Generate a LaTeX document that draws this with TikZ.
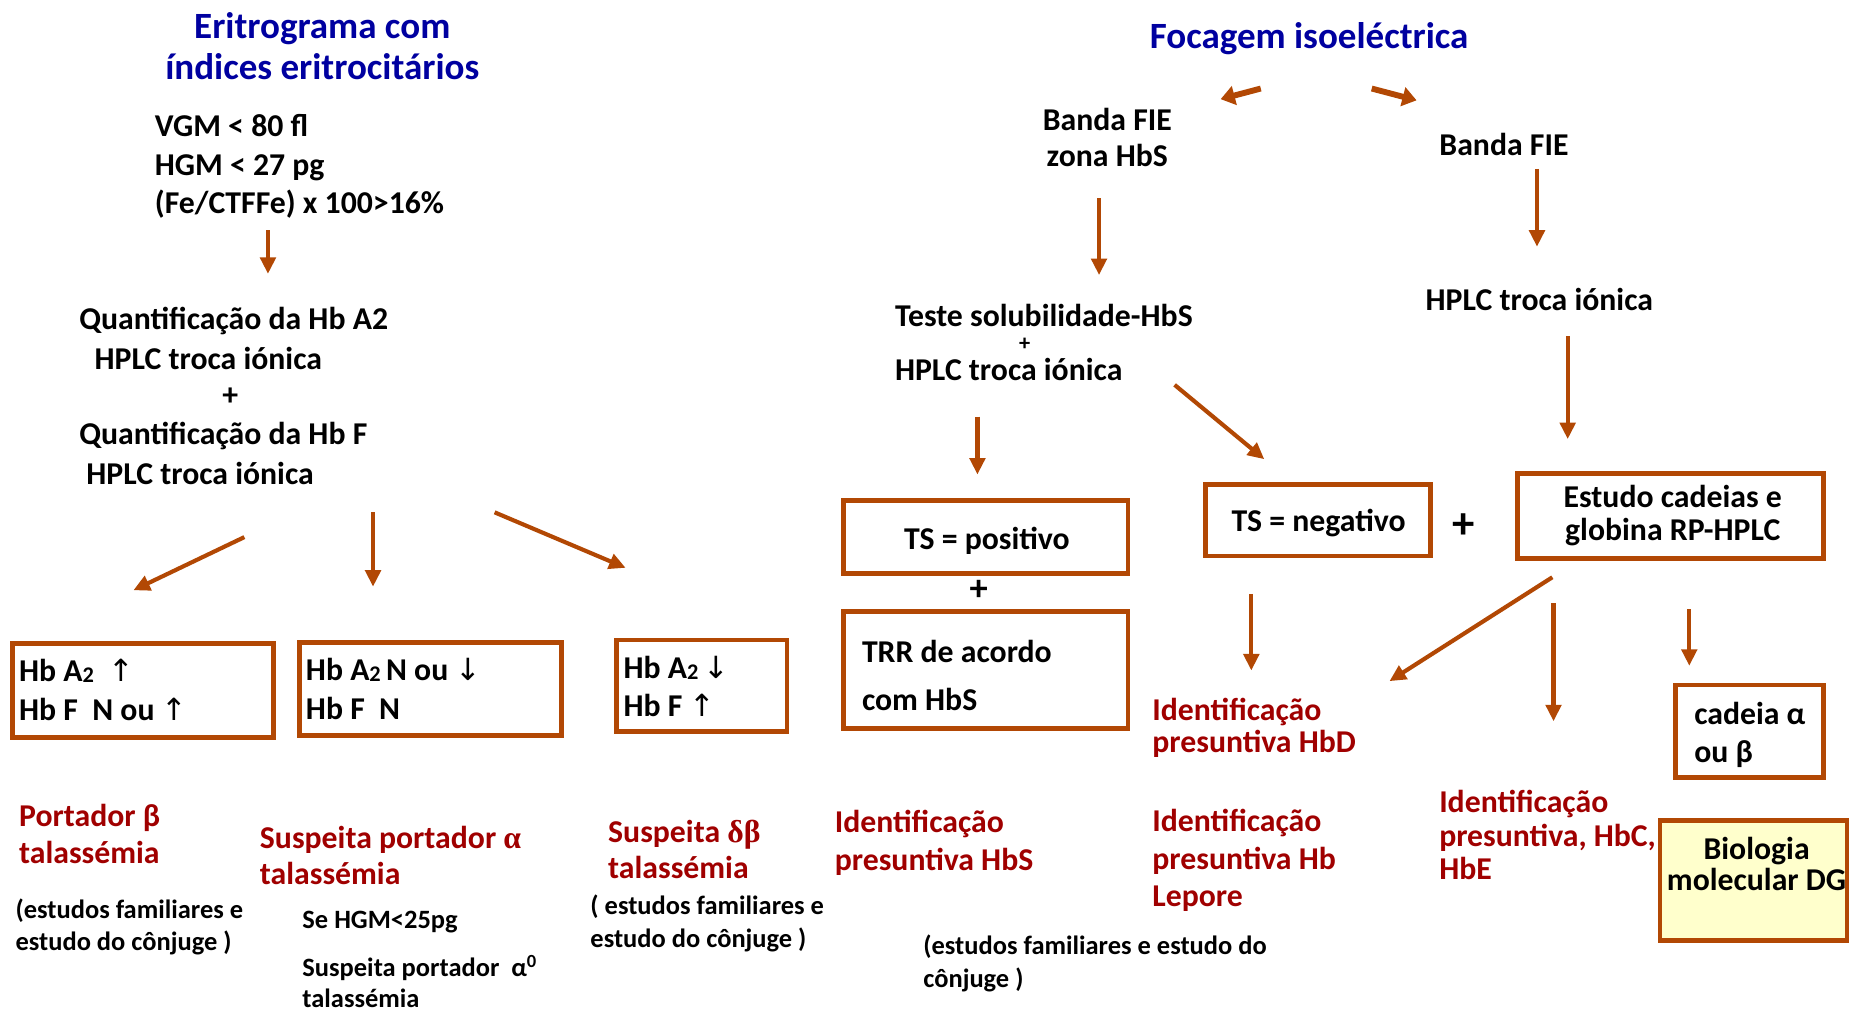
\documentclass[tikz,border=0pt]{standalone}
\usepackage{fontspec}
\setmainfont{Carlito}
\newfontfamily\arrfont{DejaVu Sans}
\newfontfamily\grk{Liberation Serif}
\usetikzlibrary{arrows.meta}
\definecolor{brn}{RGB}{178,72,4}
\definecolor{dred}{RGB}{160,0,0}
\definecolor{dblue}{RGB}{0,0,160}
\definecolor{lyel}{RGB}{255,255,204}
\newcommand{\Atwo}{A\raisebox{-1bp}{\fontsize{19}{19}\selectfont 2}}
\newcommand{\up}{{\arrfont\mdseries\fontsize{26}{26}\selectfont ↑}}
\newcommand{\dn}{{\arrfont\mdseries\fontsize{26}{26}\selectfont ↓}}
\begin{document}
\begin{tikzpicture}[x=1bp,y=-1bp,
  txt/.style={font=\fontsize{27}{32}\selectfont\bfseries, inner sep=0pt, align=left, anchor=west},
  ctxt/.style={font=\fontsize{27}{32}\selectfont\bfseries, inner sep=0pt, align=center},
  ttl/.style={font=\fontsize{31.5}{35}\selectfont\bfseries, text=dblue, inner sep=0pt, align=center},
  redt/.style={txt, text=dred},
  small/.style={font=\fontsize{22.5}{27}\selectfont\bfseries, inner sep=0pt, align=left, anchor=west},
  box/.style={draw=brn, line width=4bp, inner sep=0pt},
  arr/.style={draw=brn, line width=3.5bp, -{Triangle[length=14bp,width=13bp]}},
  sarr/.style={draw=brn, line width=5bp, -{Triangle[length=12bp,width=16bp]}},
  ]
\useasboundingbox (0,0) rectangle (1568,857);

% ---------- left titles and texts ----------
\node[ttl] (t1) at (273,39) {Eritrograma com\\índices eritrocitários};
\node[txt, font=\fontsize{27}{32.5}\selectfont\bfseries] (vgm) at (131,141) {VGM < 80 fl\\HGM < 27 pg\\(Fe/CTFFe) x 100>16\%};
\node[txt] (q1) at (67,272) {Quantificação da Hb A2};
\node[txt] (h1) at (80,304) {HPLC troca iónica};
\node[ctxt] (p1) at (195,336) {+};
\node[txt] (q2) at (67,369) {Quantificação da Hb F};
\node[txt] (h2) at (73,401) {HPLC troca iónica};

% boxes left
\node[box, minimum width=222, minimum height=80] (b1) at (121,585) {};
\node[box, minimum width=223, minimum height=79] (b2) at (364.5,583.5) {};
\node[box, minimum width=145, minimum height=78] (b3) at (594.5,581) {};
\node[txt, font=\fontsize{27}{33}\selectfont\bfseries] (b1t) at (16,584.5) {Hb \Atwo\ \ \up\\Hb F\ \ N ou \up};
\node[txt, font=\fontsize{27}{33}\selectfont\bfseries] (b2t) at (259,583.5) {Hb \Atwo\,N ou \dn\\Hb F\ \ N};
\node[txt, font=\fontsize{27}{33}\selectfont\bfseries] (b3t) at (528,581.5) {Hb \Atwo\,\dn\\Hb F \up};

% red conclusions left
\node[redt, font=\fontsize{27}{31}\selectfont\bfseries] (r1) at (16,706.5) {Portador β\\talassémia};
\node[small] (s1) at (13,785.5) {(estudos familiares e\\estudo do cônjuge )};
\node[redt, font=\fontsize{27}{31}\selectfont\bfseries] (r2) at (220,724.5) {Suspeita portador {\grk α}\\talassémia};
\node[small] (s2) at (256,781) {Se HGM<25pg};
\node[small] (s3) at (256,831.5) {Suspeita portador\ \ α\textsuperscript{0}\\talassémia};
\node[redt, font=\fontsize{27}{31}\selectfont\bfseries] (r3) at (515,719.5) {Suspeita {\grk δβ}\\talassémia};
\node[small, font=\fontsize{22.5}{28}\selectfont\bfseries] (s4) at (500,782) {( estudos familiares e\\estudo do cônjuge )};

% left arrows
\coordinate (a1s) at (227,195); \coordinate (a1e) at (227,232);
\coordinate (a2s) at (207,455); \coordinate (a2e) at (113,500);
\coordinate (a3s) at (316,434); \coordinate (a3e) at (316,497);
\coordinate (a4s) at (419,434); \coordinate (a4e) at (530,481);
\draw[arr] (a1s) -- (a1e);
\draw[arr] (a2s) -- (a2e);
\draw[arr] (a3s) -- (a3e);
\draw[arr] (a4s) -- (a4e);

% ---------- right part ----------
\node[ttl] (t2) at (1109,33) {Focagem isoeléctrica};
\coordinate (sa1s) at (1068,75); \coordinate (sa1e) at (1034,84);
\coordinate (sa2s) at (1162,75); \coordinate (sa2e) at (1200,85);
\draw[sarr] (sa1s) -- (sa1e);
\draw[sarr] (sa2s) -- (sa2e);

\node[ctxt, font=\fontsize{27}{31}\selectfont\bfseries] (bf1) at (938,116.5) {Banda FIE\\zona HbS};
\node[ctxt] (bf2) at (1274,122) {Banda FIE};
\node[txt] (ts) at (758,267) {Teste solubilidade-HbS};
\node[ctxt, font=\fontsize{19}{19}\selectfont\bfseries] (p2) at (868,292) {+};
\node[txt] (h3) at (758,313) {HPLC troca iónica};
\node[ctxt] (h4) at (1304,254) {HPLC troca iónica};

\node[box, minimum width=242, minimum height=62] (tsp) at (835,455) {};
\node[ctxt] (tspt) at (836,458) {TS = positivo};
\node[ctxt, font=\fontsize{31}{31}\selectfont\bfseries] (p3) at (829,500) {+};
\node[box, minimum width=242, minimum height=99] (trr) at (835,567.5) {};
\node[txt, font=\fontsize{27}{41}\selectfont\bfseries] (trrt) at (730,572.5) {TRR de acordo\\com HbS};
\node[box, minimum width=191, minimum height=61] (tsn) at (1116.5,440.5) {};
\node[ctxt] (tsnt) at (1117,443) {TS = negativo};
\node[ctxt, font=\fontsize{38}{38}\selectfont\bfseries] (p4) at (1240,446) {+};
\node[box, minimum width=260, minimum height=72] (est) at (1415,437) {};
\node[ctxt, font=\fontsize{27}{28}\selectfont\bfseries] (estt) at (1417,437) {Estudo cadeias e\\globina RP-HPLC};
\node[box, minimum width=126, minimum height=79] (cad) at (1482,619.5) {};
\node[txt, font=\fontsize{27}{33}\selectfont\bfseries] (cadt) at (1435,622.5) {cadeia α\\ou β};
\node[box, fill=lyel, minimum width=159, minimum height=102] (bio) at (1485.5,746) {};
\node[ctxt, font=\fontsize{27}{26}\selectfont\bfseries] (biot) at (1488,732) {Biologia\\molecular DG};

\node[redt, font=\fontsize{27}{27}\selectfont\bfseries] (idd) at (976,616.5) {Identificação\\presuntiva HbD};
\node[redt] (ids) at (707,714) {Identificação\\presuntiva HbS};
\node[redt] (idl) at (976,729) {Identificação\\presuntiva Hb\\Lepore};
\node[redt, font=\fontsize{27}{28.5}\selectfont\bfseries] (idc) at (1219,707.5) {Identificação\\presuntiva, HbC,\\HbE};
\node[small, font=\fontsize{22.5}{28}\selectfont\bfseries] (s5) at (782,816) {(estudos familiares e estudo do\\cônjuge )};

% right arrows
\coordinate (a5s) at (931,168); \coordinate (a5e) at (931,233);
\coordinate (a6s) at (1302,143); \coordinate (a6e) at (1302,209);
\coordinate (a7s) at (1328,285); \coordinate (a7e) at (1328,372);
\coordinate (a8s) at (828,353); \coordinate (a8e) at (828,402);
\coordinate (a9s) at (995,326); \coordinate (a9e) at (1071,389);
\coordinate (a10s) at (1060,503); \coordinate (a10e) at (1060,568);
\coordinate (a11s) at (1315,489); \coordinate (a11e) at (1177,577);
\coordinate (a12s) at (1316,511); \coordinate (a12e) at (1316,611);
\coordinate (a13s) at (1431,516); \coordinate (a13e) at (1431,564);
\draw[arr] (a5s) -- (a5e);
\draw[arr] (a6s) -- (a6e);
\draw[arr] (a7s) -- (a7e);
\draw[arr] (a8s) -- (a8e);
\draw[arr] (a9s) -- (a9e);
\draw[arr] (a10s) -- (a10e);
\draw[arr] (a11s) -- (a11e);
\draw[arr] (a12s) -- (a12e);
\draw[arr] (a13s) -- (a13e);
\end{tikzpicture}
\end{document}
